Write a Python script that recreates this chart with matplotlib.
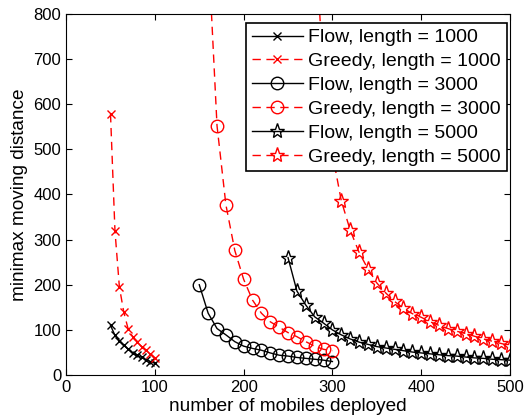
import numpy as np
import matplotlib
matplotlib.use('Agg')
import matplotlib.pyplot as plt

plt.rcParams['font.family'] = ['Liberation Sans', 'DejaVu Sans']

# number of mobiles
x1 = np.arange(50, 101, 5)
x3 = np.arange(150, 301, 10)
x5 = np.arange(250, 501, 10)

flow1000 = [110, 88, 76, 66, 57, 49, 44, 39, 34, 30, 26]
greedy1000 = [578, 320, 195, 139, 101, 85, 73, 63, 55, 47, 38]

flow3000 = [200, 137, 103, 89, 74, 64, 59, 55, 49, 44, 42, 39, 37, 35, 33, 30]
greedy3000 = [2000, 950, 552, 377, 276, 212, 166, 137, 118, 106, 94, 85, 74, 64, 57, 54]

flow5000 = [260, 186, 155, 129, 115, 100, 89, 80, 73, 68, 63, 60, 57, 54, 51, 49,
            47, 45, 43, 42, 40, 38, 37, 35, 34, 33]
greedy5000 = [8000, 4000, 2000, 1000, 650, 490, 386, 321, 272, 235, 204, 182, 163,
              148, 136, 128, 118, 110, 103, 97, 92, 86, 80, 75, 70, 65]

fig = plt.figure(figsize=(5.29, 4.2), dpi=100)
ax = fig.add_axes([0.125, 0.107, 0.839, 0.860])

dash = (0, (6, 4))
ax.plot(x1, flow1000, color='k', marker='x', ms=6, mew=1, lw=1, label='Flow, length = 1000')
ax.plot(x1, greedy1000, color='r', ls=dash, marker='x', ms=6, mew=1, lw=1, label='Greedy, length = 1000')
ax.plot(x3, flow3000, color='k', marker='o', ms=9, mfc='none', mew=1, lw=1, label='Flow, length = 3000')
ax.plot(x3, greedy3000, color='r', ls=dash, marker='o', ms=9, mfc='none', mew=1, lw=1, label='Greedy, length = 3000')
ax.plot(x5, flow5000, color='k', marker='*', ms=11, mfc='none', mew=1, lw=1, label='Flow, length = 5000')
ax.plot(x5, greedy5000, color='r', ls=dash, marker='*', ms=11, mfc='none', mew=1, lw=1, label='Greedy, length = 5000')

ax.set_xlim(0, 500)
ax.set_ylim(0, 800)
ax.set_xticks(np.arange(0, 501, 100))
ax.set_yticks(np.arange(0, 801, 100))
ax.tick_params(direction='in', top=True, right=True, labelsize=12, length=4)
ax.set_xlabel('number of mobiles deployed', fontsize=13.7, labelpad=2)
ax.set_ylabel('minimax moving distance', fontsize=13.7, labelpad=4)

leg = ax.legend(loc='upper right', bbox_to_anchor=(0.993, 0.975), fontsize=14,
                fancybox=False, framealpha=1, edgecolor='k', handlelength=2.6,
                borderpad=0.3, labelspacing=0.32, handletextpad=0.3, borderaxespad=0)
leg.get_frame().set_linewidth(1.2)

fig.savefig('out.png', dpi=100)
